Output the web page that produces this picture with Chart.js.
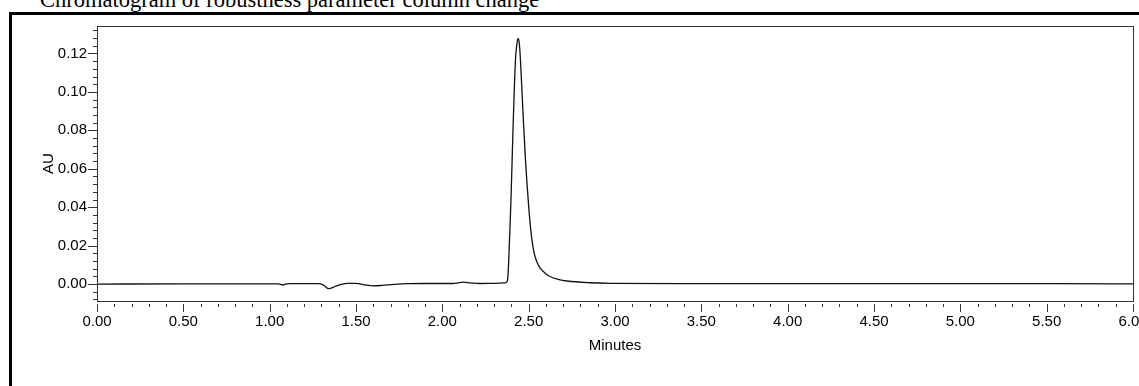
<!DOCTYPE html>
<html>
<head>
<meta charset="utf-8">
<title>Chromatogram of robustness parameter column change</title>
<script src="https://cdn.jsdelivr.net/npm/chart.js@4.4.1/dist/chart.umd.min.js"></script>
<style>
  html, body { margin: 0; padding: 0; background: #fff; overflow: hidden; }
  #page { position: relative; width: 1139px; height: 386px; overflow: hidden; }
  /* title is cut at the top of the picture, like in the original */
  #title {
    position: absolute; left: 40px; top: -12px;
    font-family: 'Liberation Serif', 'Times New Roman', serif;
    font-size: 22.5px; line-height: 23px; color: #000; white-space: nowrap;
  }
  /* thick outer frame that runs off the right and bottom edges */
  #frame {
    position: absolute; left: 9px; top: 12px; width: 1200px; height: 500px;
    border: 3px solid #000; box-sizing: border-box;
  }
  #chart { position: absolute; left: 0; top: 0; }
</style>
</head>
<body>
<div id="page">
  <div id="title">Chromatogram of robustness parameter column change</div>
  <div id="frame"></div>
  <canvas id="chart" width="1139" height="386"></canvas>
</div>
<script>
// retention time (minutes) and absorbance (AU)
const times = [
  0.00, 0.50, 1.00, 1.05, 1.075, 1.10, 1.12, 1.28, 1.31, 1.342, 1.38, 1.42, 1.45,
  1.50, 1.55, 1.60, 1.65, 1.72, 1.80, 1.90, 2.06, 2.09, 2.12, 2.16, 2.22, 2.30,
  2.36, 2.372, 2.380, 2.385, 2.392, 2.399, 2.410, 2.424, 2.432, 2.439, 2.446,
  2.452, 2.466, 2.481, 2.501, 2.515, 2.530, 2.548, 2.568, 2.600, 2.626, 2.670,
  2.723, 2.858, 2.974, 3.50, 4.00, 4.50, 5.00, 5.50, 6.00
];
const absorbance = [
  0.0000, 0.0001, 0.0001, 0.0001, -0.0004, 0.0001, 0.0002, 0.0002, -0.0004, -0.0024, -0.0012, 0.0000, 0.0004,
  0.0004, -0.0004, -0.0009, -0.0007, -0.0002, 0.0002, 0.0003, 0.0003, 0.0006, 0.0010, 0.0006, 0.0003, 0.0004,
  0.0006, 0.0010, 0.0040, 0.0134, 0.0300, 0.0480, 0.0827, 0.1174, 0.1250, 0.1278, 0.1250,
  0.1174, 0.0914, 0.0654, 0.0394, 0.0260, 0.0168, 0.0115, 0.0082, 0.0053, 0.0038, 0.0025,
  0.0016, 0.0007, 0.0004, 0.0002, 0.0002, 0.0002, 0.0002, 0.0002, 0.0001
];

// labelled ticks
const xTickLabels = ['0.00', '0.50', '1.00', '1.50', '2.00', '2.50', '3.00', '3.50', '4.00', '4.50', '5.00', '5.50', '6.00'];
const yTickLabels = ['0.00', '0.02', '0.04', '0.06', '0.08', '0.10', '0.12'];

// axis limits
const xMin = 0;
const xMax = 6;
const yMin = -0.0088;
const yMax = 0.1343;

const xMajor = xTickLabels.map(Number);
const yMajor = yTickLabels.map(Number);

// small ticks: every 0.1 min on x, every 0.004 AU on y
const xMinor = [];
for (let i = 0; i <= 60; i++) xMinor.push(i / 10);
const yMinor = [];
for (let i = -2; i <= 33; i++) yMinor.push(i * 0.004);

const tickFont = { family: "'Liberation Sans Narrow', 'Arial Narrow', 'Liberation Sans', Arial, sans-serif", size: 15 };

// draws the plot box and the tick marks (long for labelled values, short in between)
const tickMarks = {
  id: 'tickMarks',
  afterDraw(chart) {
    const { ctx, chartArea, scales } = chart;
    ctx.save();
    ctx.strokeStyle = '#333';
    ctx.lineWidth = 1;
    ctx.strokeRect(chartArea.left + 0.5, chartArea.top + 0.5,
      chartArea.right - chartArea.left, chartArea.bottom - chartArea.top);

    ctx.beginPath();
    for (const v of xMinor) {
      const px = Math.round(scales.x.getPixelForValue(v)) + 0.5;
      const isMajor = xMajor.some((m) => Math.abs(m - v) < 1e-6);
      ctx.moveTo(px, chartArea.bottom + 3);
      ctx.lineTo(px, chartArea.bottom + (isMajor ? 11 : 6));
    }
    for (const v of yMinor) {
      if (v < yMin || v > yMax) continue;
      const py = Math.round(scales.y.getPixelForValue(v)) + 0.5;
      const isMajor = yMajor.some((m) => Math.abs(m - v) < 1e-6);
      ctx.moveTo(chartArea.left - (isMajor ? 9 : 4), py);
      ctx.lineTo(chartArea.left, py);
    }
    ctx.stroke();
    ctx.restore();
  }
};

new Chart(document.getElementById('chart'), {
  type: 'line',
  data: {
    datasets: [{
      data: times.map((t, i) => ({ x: t, y: absorbance[i] })),
      borderColor: '#111',
      borderWidth: 1.3,
      pointRadius: 0,
      cubicInterpolationMode: 'monotone',
      fill: false
    }]
  },
  options: {
    responsive: false,
    animation: false,
    layout: { padding: { left: 0, top: 26, right: 6, bottom: 0 } },
    plugins: { legend: { display: false }, tooltip: { enabled: false } },
    scales: {
      x: {
        type: 'linear',
        min: xMin,
        max: xMax,
        grid: { display: false, drawTicks: false },
        border: { display: false },
        afterBuildTicks: (scale) => { scale.ticks = xMajor.map((v) => ({ value: v })); },
        afterFit: (scale) => { scale.height = 85; scale.paddingLeft = 0; scale.paddingRight = 0; },
        ticks: {
          callback: (value, index) => xTickLabels[index],
          font: tickFont,
          color: '#000',
          padding: 12,
          maxRotation: 0,
          autoSkip: false
        },
        title: {
          display: true,
          text: 'Minutes',
          font: tickFont,
          color: '#000',
          padding: { top: 0, bottom: 31 }
        }
      },
      y: {
        min: yMin,
        max: yMax,
        grid: { display: false, drawTicks: false },
        border: { display: false },
        afterBuildTicks: (scale) => { scale.ticks = yMajor.map((v) => ({ value: v })); },
        afterFit: (scale) => { scale.width = 97; scale.paddingTop = 0; scale.paddingBottom = 0; },
        ticks: {
          callback: (value, index) => yTickLabels[index],
          font: tickFont,
          color: '#000',
          padding: 10,
          autoSkip: false
        },
        title: {
          display: true,
          text: 'AU',
          font: tickFont,
          color: '#000',
          padding: { top: 40, bottom: 0 }
        }
      }
    }
  },
  plugins: [tickMarks]
});
</script>
</body>
</html>
